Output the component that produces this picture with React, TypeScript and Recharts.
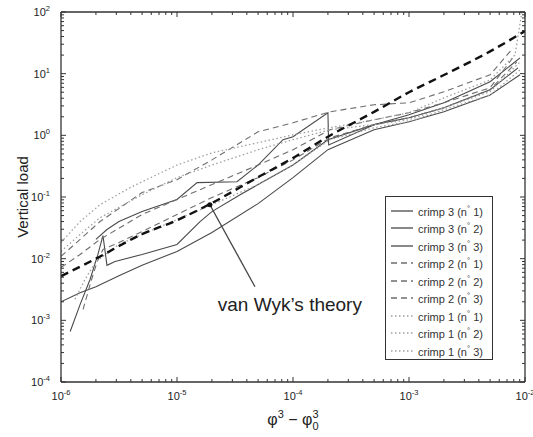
import React from "react";
import { LineChart, Line, XAxis, YAxis, ReferenceLine, ReferenceDot } from "recharts";

// decades and minor multipliers for the log axes
const xDecades = [1e-6, 1e-5, 1e-4, 1e-3];
const yDecades = [1e-4, 1e-3, 1e-2, 1e-1, 1, 10];
const minorSteps = [1, 2, 3, 4, 5, 6, 7, 8, 9];
const xTicks = [...xDecades.flatMap((d) => minorSteps.map((m) => m * d)), 1e-2];
const yTicks = [...yDecades.flatMap((d) => minorSteps.map((m) => m * d)), 100];

// van Wyk's theory
const vanWykX = [1e-6, 2e-6, 5e-6, 1e-5, 2e-5, 5e-5, 1e-4, 2e-4, 5e-4, 1e-3, 2e-3, 5e-3, 1e-2];
const vanWykY = [0.0052, 0.01, 0.025, 0.042, 0.08, 0.21, 0.43, 0.95, 2.4, 5.0, 9.5, 23, 49];

// crimp 3 (solid)
const c3n1X = [1.2e-6, 1.46e-6, 1.78e-6, 2.08e-6, 2.3e-6, 2.49e-6, 2.92e-6, 5e-6, 1e-5, 1.58e-5, 2e-5, 3.5e-5, 5e-5, 1e-4, 2e-4, 5e-4, 1e-3, 2e-3, 5e-3, 8.7e-3];
const c3n1Y = [0.00066, 0.0018, 0.0046, 0.0117, 0.0237, 0.0078, 0.009, 0.0117, 0.017, 0.04, 0.058, 0.109, 0.159, 0.33, 0.85, 1.49, 1.93, 2.8, 5.5, 12.4];
const c3n2X = [1e-6, 1.46e-6, 2e-6, 3.16e-6, 5e-6, 1e-5, 2e-5, 5e-5, 1e-4, 2e-4, 5e-4, 1e-3, 2e-3, 5e-3, 9.06e-3];
const c3n2Y = [0.002, 0.0028, 0.0035, 0.0053, 0.0078, 0.0131, 0.0265, 0.078, 0.206, 0.585, 1.23, 1.66, 2.41, 4.5, 9.6];
const c3n3X = [2e-6, 2.49e-6, 3.16e-6, 5e-6, 1e-5, 1.49e-5, 3.29e-5, 5e-5, 8.2e-5, 1e-4, 2e-4, 2.03e-4, 5e-4, 1e-3, 2e-3, 5e-3, 9.06e-3];
const c3n3Y = [0.0205, 0.0297, 0.04, 0.058, 0.091, 0.171, 0.177, 0.33, 0.85, 0.95, 2.32, 0.7, 1.49, 2.15, 3.37, 7.4, 18];

// crimp 2 (dashed)
const c2n1X = [1e-6, 1.46e-6, 2.17e-6, 5e-6, 1e-5, 2e-5, 5e-5, 1e-4, 2.08e-4, 5e-4, 1e-3, 2e-3, 5e-3, 7.9e-3];
const c2n1Y = [0.0109, 0.0205, 0.04, 0.118, 0.191, 0.4, 1.14, 1.6, 2.41, 3.13, 3.37, 5.1, 9.6, 26.1];
const c2n2X = [1e-6, 1.46e-6, 2.17e-6, 5e-6, 1e-5, 2e-5, 5e-5, 1e-4, 2.08e-4, 5e-4, 1e-3, 2e-3, 5e-3, 8.2e-3];
const c2n2Y = [0.0072, 0.0117, 0.0205, 0.052, 0.091, 0.159, 0.33, 0.585, 1.23, 1.79, 2.32, 3.37, 5.9, 20.1];
const c2n3X = [1.55e-6, 1.78e-6, 2.04e-6, 2.3e-6, 3.16e-6, 5e-6, 1e-5, 2e-5, 5e-5, 1e-4, 2.08e-4, 5e-4, 1e-3, 2e-3, 5e-3, 8.5e-3];
const c2n3Y = [0.0015, 0.0038, 0.0087, 0.0141, 0.0183, 0.0275, 0.052, 0.098, 0.206, 0.4, 0.91, 1.49, 1.93, 2.8, 5.5, 15.5];

// crimp 1 (dotted)
const c1n1X = [1e-6, 1.46e-6, 2.17e-6, 3.94e-6, 1e-5, 2e-5, 5e-5, 1e-4, 2.08e-4, 5e-4, 1e-3, 2e-3, 5e-3, 8.2e-3, 9.4e-3];
const c1n1Y = [0.0183, 0.04, 0.075, 0.142, 0.33, 0.52, 0.76, 1.02, 1.33, 1.79, 2.32, 4.05, 7.9, 20.1, 100];
const c1n2X = [1e-6, 1.46e-6, 2.17e-6, 5e-6, 1e-5, 2e-5, 5e-5, 1e-4, 2.08e-4, 5e-4, 1e-3, 2e-3, 5e-3, 9.06e-3];
const c1n2Y = [0.0131, 0.0247, 0.046, 0.109, 0.206, 0.33, 0.585, 0.85, 1.23, 1.49, 1.79, 2.8, 5.1, 15.5];
const c1n3X = [1.32e-6, 1.61e-6, 2e-6, 3.16e-6, 5e-6, 1e-5, 2e-5, 5e-5, 1e-4, 2.08e-4, 5e-4, 1e-3, 2e-3, 5e-3, 9.06e-3];
const c1n3Y = [0.0022, 0.0046, 0.009, 0.017, 0.0247, 0.043, 0.075, 0.159, 0.33, 0.85, 1.33, 1.66, 2.6, 4.5, 11.5];

const zip = (xs: number[], ys: number[]) => xs.map((x, i) => ({ x, y: ys[i] }));

const SOLID = { stroke: "#4a4a4a", dash: undefined, width: 1.1 };
const DASHED = { stroke: "#6e6e6e", dash: "6 4", width: 1.1 };
const DOTTED = { stroke: "#a0a0a0", dash: "1.5 2.5", width: 1.3 };

const series = [
  { crimp: 3, n: 1, data: zip(c3n1X, c3n1Y), ...SOLID },
  { crimp: 3, n: 2, data: zip(c3n2X, c3n2Y), ...SOLID },
  { crimp: 3, n: 3, data: zip(c3n3X, c3n3Y), ...SOLID },
  { crimp: 2, n: 1, data: zip(c2n1X, c2n1Y), ...DASHED },
  { crimp: 2, n: 2, data: zip(c2n2X, c2n2Y), ...DASHED },
  { crimp: 2, n: 3, data: zip(c2n3X, c2n3Y), ...DASHED },
  { crimp: 1, n: 1, data: zip(c1n1X, c1n1Y), ...DOTTED },
  { crimp: 1, n: 2, data: zip(c1n2X, c1n2Y), ...DOTTED },
  { crimp: 1, n: 3, data: zip(c1n3X, c1n3Y), ...DOTTED },
];

const FONT = "Liberation Sans, Arial, Helvetica, sans-serif";

const isMajor = (v: number) => Math.abs(Math.log10(v) - Math.round(Math.log10(v))) < 1e-6;

function XTick({ x, y, payload, top }: any) {
  const v = payload.value;
  const major = isMajor(v);
  const len = major ? 5 : 3;
  const dir = top ? 1 : -1;
  return (
    <g>
      <line x1={x} x2={x} y1={y} y2={y + dir * len} stroke="#333" strokeWidth={1} />
      {!top && major && (
        <text x={x} y={y + 18} textAnchor="middle" fontSize={11} fill="#222" fontFamily={FONT}>
          10<tspan dy={-5} fontSize={7.5}>{Math.round(Math.log10(v))}</tspan>
        </text>
      )}
    </g>
  );
}

function YTick({ x, y, payload, right }: any) {
  const v = payload.value;
  const major = isMajor(v);
  const len = major ? 5 : 3;
  const dir = right ? -1 : 1;
  return (
    <g>
      <line x1={x} x2={x + dir * len} y1={y} y2={y} stroke="#333" strokeWidth={1} />
      {!right && major && (
        <text x={x - 11} y={y + 4} textAnchor="end" fontSize={11} fill="#222" fontFamily={FONT}>
          10<tspan dy={-5} fontSize={7.5}>{Math.round(Math.log10(v))}</tspan>
        </text>
      )}
    </g>
  );
}

function LegendBox() {
  return (
    <div
      style={{
        position: "absolute",
        left: 385,
        top: 196,
        width: 106,
        height: 157,
        border: "1.3px solid #333",
        background: "#fff",
        paddingTop: 5,
        fontFamily: FONT,
        fontSize: 11,
        color: "#333",
      }}
    >
      {series.map((s) => (
        <div key={`${s.crimp}-${s.n}`} style={{ height: 17.5, display: "flex", alignItems: "center" }}>
          <svg width={32} height={10} style={{ flex: "none" }}>
            <line x1={5} x2={27} y1={5} y2={5} stroke={s.stroke} strokeWidth={s.width + 0.2} strokeDasharray={s.dash} />
          </svg>
          <span style={{ whiteSpace: "nowrap" }}>
            crimp {s.crimp} (n<span style={{ fontSize: 8, verticalAlign: "super" }}>°</span> {s.n})
          </span>
        </div>
      ))}
    </div>
  );
}

export default function App() {
  return (
    <div style={{ position: "absolute", left: 0, top: 0, width: 533, height: 437, background: "#fff" }}>
      <LineChart width={533} height={437} margin={{ top: 11, right: 7, bottom: 0, left: 0 }}>
        <XAxis
          xAxisId="b"
          dataKey="x"
          type="number"
          scale="log"
          domain={[1e-6, 1e-2]}
          allowDataOverflow
          ticks={xTicks}
          interval={0}
          height={55}
          tickSize={0}
          tickMargin={0}
          tickLine={false}
          axisLine={{ stroke: "#333", strokeWidth: 1.3 }}
          tick={<XTick />}
          label={{
            content: ({ viewBox }: any) => (
              <text x={viewBox.x + viewBox.width / 2} y={viewBox.y + 43} textAnchor="middle" fontFamily={FONT} fontSize={16} fill="#222">
                φ<tspan dy={-7} fontSize={11}>3</tspan>
                <tspan dy={7}> − φ</tspan>
                <tspan dy={-7} fontSize={11}>3</tspan>
                <tspan dx={-6} dy={12} fontSize={11}>0</tspan>
              </text>
            ),
          }}
        />
        <XAxis
          xAxisId="t"
          orientation="top"
          dataKey="x"
          type="number"
          scale="log"
          domain={[1e-6, 1e-2]}
          allowDataOverflow
          ticks={xTicks}
          interval={0}
          height={1}
          tickSize={0}
          tickMargin={0}
          tickLine={false}
          axisLine={{ stroke: "#333", strokeWidth: 1.3 }}
          tick={<XTick top />}
        />
        <YAxis
          yAxisId="l"
          dataKey="y"
          type="number"
          scale="log"
          domain={[1e-4, 100]}
          allowDataOverflow
          ticks={yTicks}
          interval={0}
          width={61}
          tickSize={0}
          tickMargin={0}
          tickLine={false}
          axisLine={{ stroke: "#333", strokeWidth: 1.3 }}
          tick={<YTick />}
          label={{
            content: ({ viewBox }: any) => (
              <text
                x={22}
                y={viewBox.y + viewBox.height / 2}
                transform={`rotate(-90 22 ${viewBox.y + viewBox.height / 2})`}
                textAnchor="middle"
                dominantBaseline="central"
                fontFamily={FONT}
                fontSize={15}
                fill="#222"
              >
                Vertical load
              </text>
            ),
          }}
        />
        <YAxis
          yAxisId="r"
          orientation="right"
          dataKey="y"
          type="number"
          scale="log"
          domain={[1e-4, 100]}
          allowDataOverflow
          ticks={yTicks}
          interval={0}
          width={1}
          tickSize={0}
          tickMargin={0}
          tickLine={false}
          axisLine={{ stroke: "#333", strokeWidth: 1.3 }}
          tick={<YTick right />}
        />
        {series.map((s) => (
          <Line
            key={`${s.crimp}-${s.n}`}
            xAxisId="b"
            yAxisId="l"
            data={s.data}
            dataKey="y"
            type="linear"
            stroke={s.stroke}
            strokeWidth={s.width}
            strokeDasharray={s.dash}
            dot={false}
            isAnimationActive={false}
          />
        ))}
        <Line
          xAxisId="b"
          yAxisId="l"
          data={zip(vanWykX, vanWykY)}
          dataKey="y"
          type="monotone"
          stroke="#111"
          strokeWidth={2.4}
          strokeDasharray="8 5"
          dot={false}
          isAnimationActive={false}
        />
        <ReferenceLine
          xAxisId="b"
          yAxisId="l"
          segment={[
            { x: 4.7e-5, y: 0.0035 },
            { x: 1.92e-5, y: 0.075 },
          ]}
          stroke="#444"
          strokeWidth={1.3}
        />
        <ReferenceDot xAxisId="b" yAxisId="l" x={1.92e-5} y={0.075} r={2.5} fill="#111" stroke="none" />
        <ReferenceDot
          xAxisId="b"
          yAxisId="l"
          x={9.4e-5}
          y={0.0018}
          r={0}
          fill="none"
          stroke="none"
          label={{ value: "van Wyk\u2019s theory", position: "center", fontSize: 19, fill: "#222", fontFamily: FONT }}
        />
      </LineChart>
      <LegendBox />
    </div>
  );
}
